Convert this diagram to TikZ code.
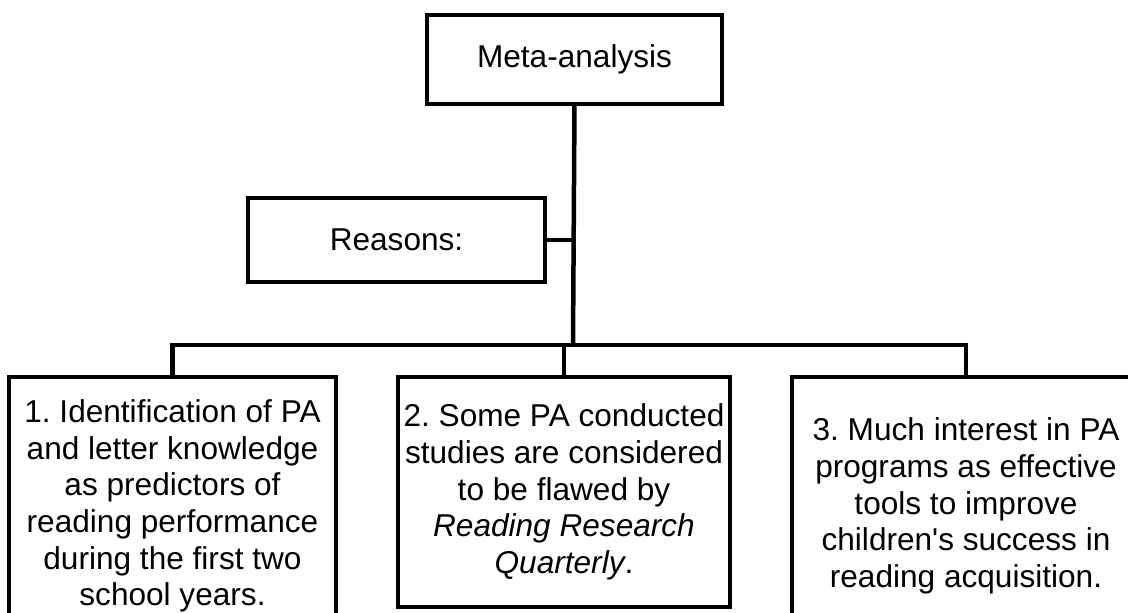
\documentclass[tikz,border=0pt]{standalone}
\usepackage{fontspec}
\setmainfont{Liberation Sans}[Ligatures=TeXOff]
\usetikzlibrary{positioning}
\tikzset{
  every picture/.style={line width=4.5pt},
  box/.style={draw=black, align=center, inner sep=0pt, outer sep=0pt, font=\fontsize{31.6}{36.7}\selectfont\frenchspacing},
  link/.style={draw=black, line width=4.5pt},
}
\begin{document}
\begin{tikzpicture}[x=1pt, y=-1pt]
  \useasboundingbox (0,0) rectangle (1128,613);
  \clip (0,0) rectangle (1128,613);
  \node[box, minimum width=295pt, minimum height=89pt] (meta) at (574.5,59.5) {Meta-analysis};
  \node[box, minimum width=297pt, minimum height=84pt] (reasons) at (396.5,240) {Reasons:};
  \coordinate (split) at (573,345);
  \node[box, minimum width=327pt, minimum height=258pt] (res1) at (172.5,506) {1. Identification of PA\\and letter knowledge\\as predictors of\\reading performance\\during the first two\\school years.};
  \node[box, minimum width=332pt, minimum height=230pt] (res2) at (564,492) {2. Some PA conducted\\studies are considered\\to be flawed by\\\textit{Reading Research}\\\textit{Quarterly}.};
  \node[box, minimum width=348pt, minimum height=258pt] (res3) at (966,506) {3. Much interest in PA\\programs as effective\\tools to improve\\children's success in\\reading acquisition.};
  \draw[link] (meta.south) -- (split);
  \draw[link] (reasons.east) -- (reasons.east -| split);
  \draw[link] (split) -| (res1.north);
  \draw[link] (split) -| (res2.north);
  \draw[link] (split) -| (res3.north);
\end{tikzpicture}
\end{document}
